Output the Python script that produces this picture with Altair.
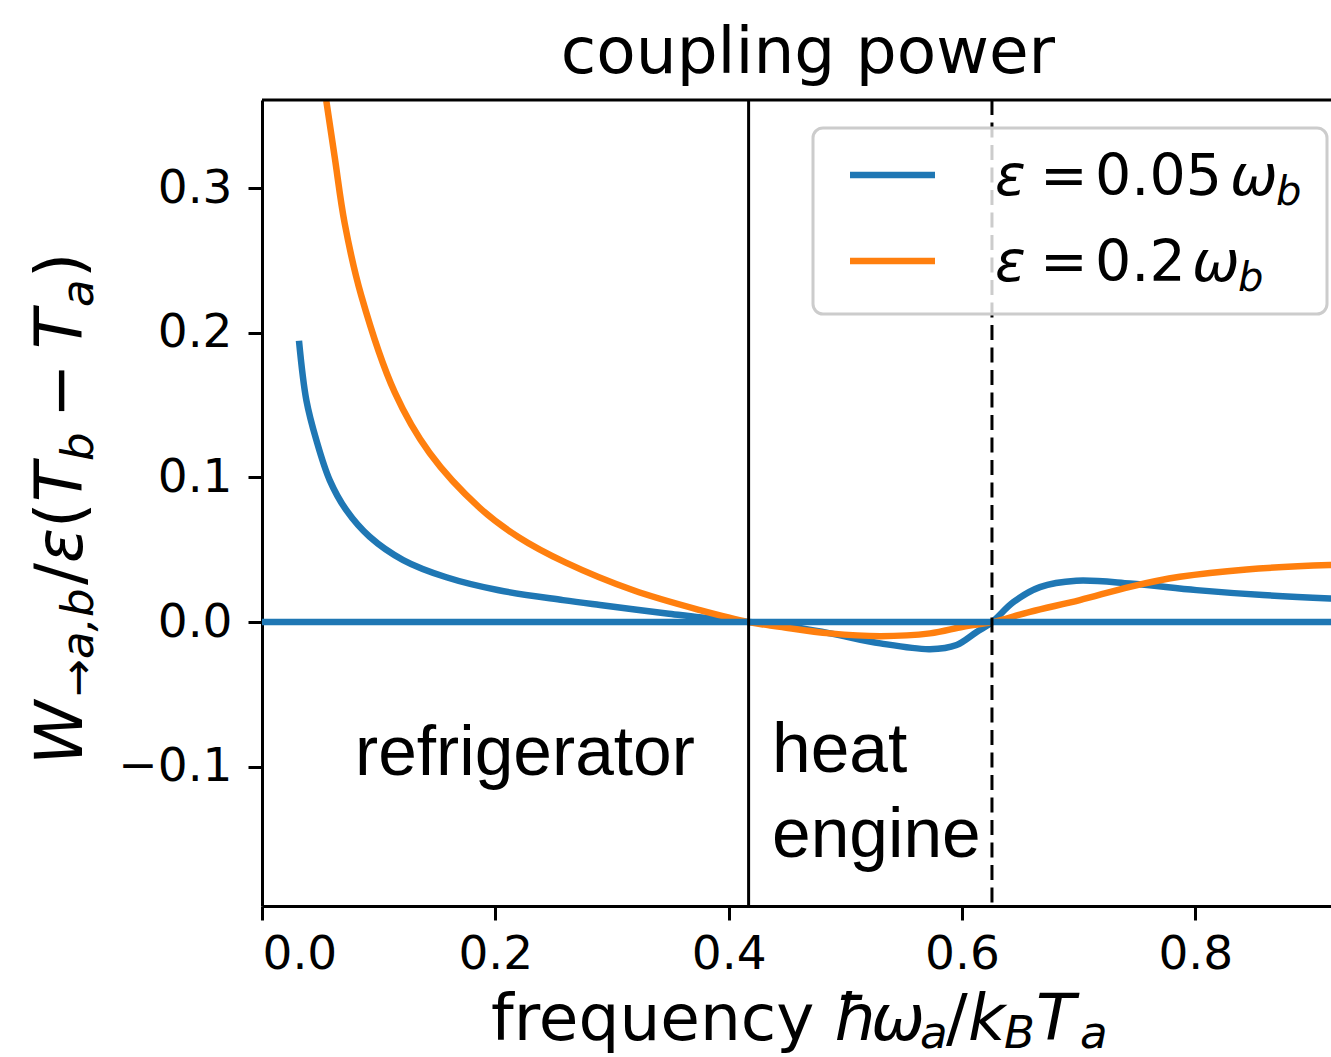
import altair as alt
import pandas as pd

# ---- data ----
x_blue = [0.0317, 0.038, 0.0466, 0.058, 0.0723, 0.0923, 0.121, 0.158, 0.203, 0.258,
          0.2897, 0.347, 0.39, 0.4171, 0.444, 0.487, 0.53, 0.5726, 0.5954, 0.6126,
          0.6257, 0.644, 0.6668, 0.698, 0.744, 0.801, 0.858, 0.9154, 0.93]
y_blue = [0.1945, 0.1535, 0.1258, 0.0982, 0.0774, 0.059, 0.0429, 0.031, 0.022, 0.0152,
          0.0118, 0.006, 0.0019, 0.0, -0.002, -0.0078, -0.0147, -0.0187, -0.0158, -0.0068,
          0.0, 0.0138, 0.0242, 0.0286, 0.0267, 0.0221, 0.0187, 0.0164, 0.016]
x_orange = [0.0551, 0.0623, 0.0709, 0.085, 0.1137, 0.1437, 0.1866, 0.22, 0.26, 0.3183,
            0.3754, 0.4171, 0.444, 0.4868, 0.53, 0.5726, 0.601, 0.6257, 0.6583, 0.701,
            0.744, 0.7868, 0.844, 0.9154, 0.93]
y_orange = [0.3605, 0.3216, 0.2756, 0.226, 0.159, 0.1169, 0.079, 0.0587, 0.0413, 0.022,
            0.0083, 0.0, -0.0032, -0.0078, -0.0097, -0.0078, -0.0032, 0.0, 0.0071, 0.0152,
            0.0244, 0.0313, 0.0364, 0.0394, 0.0396]
series_names = ["eps005", "eps02"]
series_colors = ["#1f77b4", "#ff7f0e"]
solid_line_x = [0.4171]
dashed_line_x = [0.6257]
zero_level = [0.0]
x_ticks = [0.0, 0.2, 0.4, 0.6, 0.8]
y_ticks = [-0.1, 0.0, 0.1, 0.2, 0.3]
x_domain = [0.0, 0.9163]
y_domain = [-0.1963, 0.361]

# ---- layout ----
L, T = 262, 100
W, H = 1069, 806

xs = alt.Scale(domain=x_domain, nice=False, zero=False)
ys = alt.Scale(domain=y_domain, nice=False, zero=False)

axis_common = dict(
    domainColor="black", domainWidth=3, tickColor="black", tickWidth=3, tickSize=14,
    labelFontSize=47, labelFont="DejaVu Sans", labelColor="black", grid=False,
    title=None, format=".1f",
)

curves = pd.DataFrame({
    "x": x_blue + x_orange,
    "y": y_blue + y_orange,
    "s": [series_names[0]] * len(x_blue) + [series_names[1]] * len(x_orange),
})

lines = alt.Chart(curves).mark_line(strokeWidth=6.5, clip=True, interpolate="catmull-rom").encode(
    x=alt.X("x:Q", scale=xs, axis=alt.Axis(values=x_ticks, orient="bottom", labelPadding=11, **axis_common)),
    y=alt.Y("y:Q", scale=ys, axis=alt.Axis(values=y_ticks, orient="left", labelPadding=16, **axis_common)),
    color=alt.Color("s:N", scale=alt.Scale(domain=series_names, range=series_colors), legend=None),
)

hline = alt.Chart(pd.DataFrame({"y": zero_level})).mark_rule(
    color="#1f77b4", strokeWidth=6.5).encode(y=alt.Y("y:Q", scale=ys))

vsolid = alt.Chart(pd.DataFrame({"x": solid_line_x})).mark_rule(
    color="black", strokeWidth=3).encode(x=alt.X("x:Q", scale=xs))
vdash = alt.Chart(pd.DataFrame({"x": dashed_line_x})).mark_rule(
    color="black", strokeWidth=3, strokeDash=[15, 7.5]).encode(x=alt.X("x:Q", scale=xs))

one = pd.DataFrame({"k": [0]})

top_spine = alt.Chart(one).mark_rule(color="black", strokeWidth=3).encode(
    x=alt.value(0), x2=alt.value(W), y=alt.value(0))

legend_box = alt.Chart(one).mark_rect(
    fill="white", fillOpacity=0.8, stroke="#cccccc", strokeWidth=3, cornerRadius=10
).encode(x=alt.value(813 - L), x2=alt.value(1327 - L), y=alt.value(128 - T), y2=alt.value(314 - T))

leg_b = alt.Chart(one).mark_rule(color=series_colors[0], strokeWidth=6.5).encode(
    x=alt.value(850 - L), x2=alt.value(935 - L), y=alt.value(175 - T))
leg_o = alt.Chart(one).mark_rule(color=series_colors[1], strokeWidth=6.5).encode(
    x=alt.value(850 - L), x2=alt.value(935 - L), y=alt.value(261 - T))


def txt(s, x, y, size, italic=False, font="DejaVu Sans", angle=None, align="left"):
    props = dict(text=s, fontSize=size, font=font, align=align, baseline="alphabetic",
                 color="black")
    if italic:
        props["fontStyle"] = "italic"
    if angle is not None:
        props["angle"] = angle
    return alt.Chart(one).mark_text(**props).encode(x=alt.value(x - L), y=alt.value(y - T))


texts = []
# title
texts.append(txt("coupling power", 808, 73, 64.5, align="center"))
# annotations
texts.append(txt("refrigerator", 355, 775, 69.5, font="Liberation Sans"))
texts.append(txt("heat", 772, 772, 69.5, font="Liberation Sans"))
texts.append(txt("engine", 772, 857, 69.5, font="Liberation Sans"))
# legend labels
for yb, num, wx, bx in [(195, "0.05", 1230, 1276), (281, "0.2", 1192, 1238)]:
    texts.append(txt("ε", 995, yb, 57, italic=True))
    texts.append(txt("=", 1040, yb, 57))
    texts.append(txt(num, 1095, yb, 57))
    texts.append(txt("ω", wx, yb, 57, italic=True))
    texts.append(txt("b", bx, yb + 10, 40, italic=True))
# x-axis title
xb = 1040
texts.append(txt("frequency", 491, xb, 64.5))
texts.append(txt("ħ", 834, xb, 64.5, italic=True))
texts.append(txt("ω", 871, xb, 64.5, italic=True))
texts.append(txt("a", 920, xb + 8, 45, italic=True))
texts.append(txt("/", 946, xb, 64.5))
texts.append(txt("k", 968, xb, 64.5, italic=True))
texts.append(txt("B", 1004, xb + 8, 45, italic=True))
texts.append(txt("T", 1036, xb, 64.5, italic=True))
texts.append(txt("a", 1080, xb + 8, 45, italic=True))
# y-axis title (rotated, reading upward)
yb_x = 82
frags = [
    ("W", 765, 65, True, 0),
    ("→", 697, 45, False, 11),
    ("a,b", 659, 45, True, 11),
    ("/", 585, 65, False, 0),
    ("ε", 563, 65, True, 0),
    ("(", 528, 65, False, 0),
    ("T", 502, 65, True, 0),
    ("b", 461, 45, True, 11),
    ("−", 418, 65, False, 0),
    ("T", 349, 65, True, 0),
    ("a", 307, 45, True, 11),
    (")", 278, 65, False, 0),
]
for s, ystart, size, it, shift in frags:
    texts.append(txt(s, yb_x + shift, ystart, size, italic=it, angle=270))

chart = alt.layer(
    lines, hline, vsolid, vdash, top_spine, legend_box, leg_b, leg_o, *texts
).properties(
    width=W, height=H,
    autosize=alt.AutoSizeParams(type="none"),
    padding={"left": L, "top": T, "right": 0, "bottom": 1057 - T - H},
    background="white",
).configure_view(stroke="transparent")

chart.save("out.html", embed_options={"renderer": "svg", "actions": False})
